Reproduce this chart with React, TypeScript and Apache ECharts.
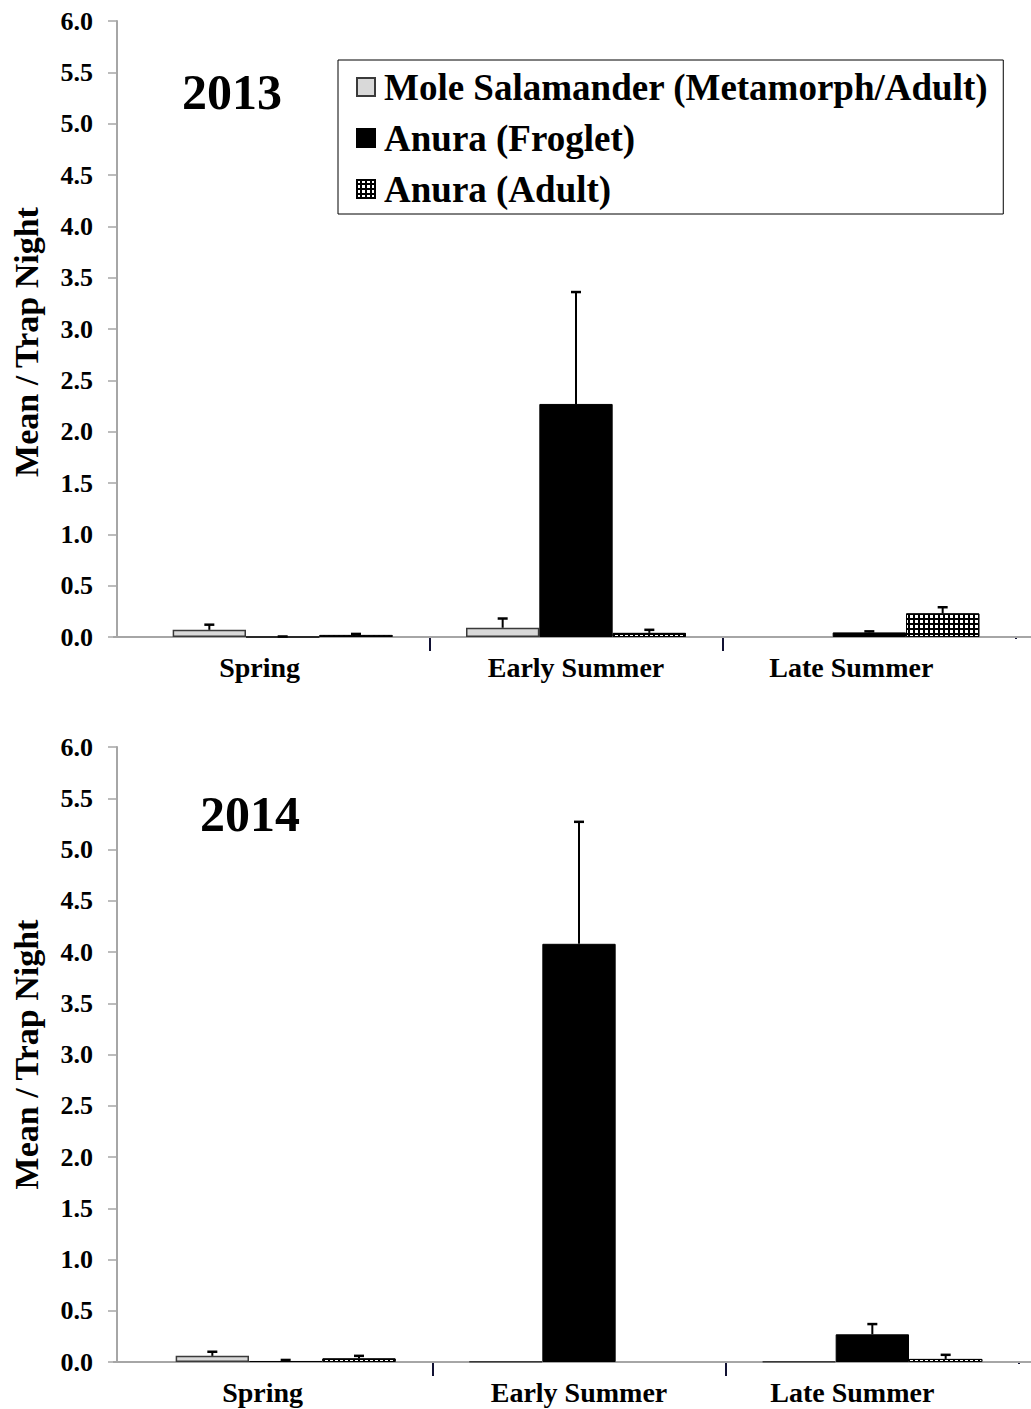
import React, { useEffect, useRef } from "react";
import * as echarts from "echarts";

const categories = ["Spring", "Early Summer", "Late Summer"];
const seriesNames = ["Mole Salamander (Metamorph/Adult)", "Anura (Froglet)", "Anura (Adult)"];
const yTicks = [0, 6, 0.5]; // min, max, interval

// 2013
const mole2013 = [0.07, 0.09, null];
const moleErr2013 = [0.05, 0.09, 0];
const froglet2013 = [0.0, 2.27, 0.045];
const frogletErr2013 = [0.005, 1.09, 0.01];
const adult2013 = [0.02, 0.04, 0.23];
const adultErr2013 = [0.01, 0.03, 0.06];

// 2014
const mole2014 = [0.06, 0.005, 0.005];
const moleErr2014 = [0.04, 0, 0];
const froglet2014 = [0.01, 4.08, 0.27];
const frogletErr2014 = [0.01, 1.19, 0.1];
const adult2014 = [0.035, null, 0.03];
const adultErr2014 = [0.025, 0, 0.04];

const years = ["2013", "2014"];

const FONT = "'Times New Roman', 'Liberation Serif', serif";

const styles = [
  { color: "#d9d9d9", borderColor: "#3a3a3a", borderWidth: 1.5 },
  { color: "#000000", borderColor: "#000000", borderWidth: 1 },
  {
    color: "#000000",
    borderColor: "#000000",
    borderWidth: 1,
    decal: {
      symbol: "rect",
      symbolSize: 1,
      color: "#ffffff",
      dashArrayX: [3, 1.6],
      dashArrayY: [3, 1.6],
      rotation: 0,
    },
  },
];

// per-chart label shifts (label padding right, in px) to match the original's off-centre labels
const labelPads = [
  [46, 0, 36],
  [46, 0, 40],
];

export default function App() {
  const ref = useRef<HTMLDivElement>(null);
  useEffect(() => {
    document.body.style.margin = "0";
    const chart = echarts.init(ref.current!, null, { renderer: "svg" });

    const grids = [
      { left: 136, width: 880, top: 21, height: 616 },
      { left: 139, width: 880, top: 747, height: 615 },
    ];
    const yOffsets = [19, 22];
    const namePads = [
      [0, 26, 0, 0],
      [0, 0, 0, 0],
    ];
    const data = [
      [mole2013, froglet2013, adult2013],
      [mole2014, froglet2014, adult2014],
    ];
    const errs = [
      [moleErr2013, frogletErr2013, adultErr2013],
      [moleErr2014, frogletErr2014, adultErr2014],
    ];

    const series: any[] = [];
    for (let g = 0; g < 2; g++) {
      for (let k = 0; k < 3; k++) {
        series.push({
          type: "bar",
          name: seriesNames[k],
          xAxisIndex: g,
          yAxisIndex: g,
          data: data[g][k],
          barGap: "0%",
          barCategoryGap: "25%",
          itemStyle: styles[k],
          z: 2,
        });
      }
      for (let k = 0; k < 3; k++) {
        const vals = data[g][k];
        const ee = errs[g][k];
        const ed: any[] = [];
        vals.forEach((v, i) => {
          if (v !== null && ee[i] > 0) ed.push([i, v, ee[i]]);
        });
        series.push({
          type: "custom",
          name: "err" + g + k,
          xAxisIndex: g,
          yAxisIndex: g,
          z: 5,
          data: ed,
          renderItem: (params: any, api: any) => {
            const ci = api.value(0);
            const v = api.value(1);
            const e = api.value(2);
            const base = api.coord([ci, v]);
            const top = api.coord([ci, v + e]);
            const catW = api.size([1, 0])[0];
            const bw = (catW * 0.75) / 3;
            const cx = base[0] + (k - 1) * bw;
            return {
              type: "group",
              children: [
                {
                  type: "line",
                  shape: { x1: cx, y1: base[1], x2: cx, y2: top[1] },
                  style: { stroke: "#000", lineWidth: 2 },
                },
                {
                  type: "line",
                  shape: { x1: cx - 5, y1: top[1], x2: cx + 5, y2: top[1] },
                  style: { stroke: "#000", lineWidth: 2.5 },
                },
              ],
            };
          },
        });
      }
    }

    const axisLineY = [637, 1362];

    chart.setOption({
      animation: false,
      backgroundColor: "#ffffff",
      textStyle: { fontFamily: FONT },
      grid: grids,
      legend: {
        orient: "vertical",
        left: 338,
        top: 60,
        data: seriesNames,
        icon: "rect",
        backgroundColor: "#fff",
        borderColor: "#000",
        borderWidth: 1,
        padding: [7, 15, 5, 18],
        itemWidth: 18,
        itemHeight: 18,
        itemGap: 11,
        selectedMode: false,
        textStyle: {
          fontFamily: FONT,
          fontWeight: "bold",
          fontSize: 37,
          lineHeight: 40,
          color: "#000",
          padding: [0, 0, 0, 4],
        },
      },
      xAxis: grids.map((_, g) => ({
        type: "category",
        gridIndex: g,
        data: categories.map((c, i) => ({
          value: c,
          textStyle: { padding: [0, labelPads[g][i], 0, 0] },
        })),
        axisLine: { show: true, lineStyle: { color: "#a6a6a6", width: 2 } },
        axisTick: {
          show: true,
          interval: (i: number) => i === 1 || i === 2,
          length: 14,
          lineStyle: { color: "#111133", width: 2 },
        },
        axisLabel: {
          fontFamily: FONT,
          fontWeight: "bold",
          fontSize: 28,
          color: "#000",
          margin: 16,
        },
      })),
      yAxis: grids.map((_, g) => ({
        type: "value",
        gridIndex: g,
        min: yTicks[0],
        max: yTicks[1],
        interval: yTicks[2],
        offset: yOffsets[g],
        name: "Mean / Trap Night",
        nameLocation: "middle",
        nameRotate: 90,
        nameGap: 74,
        nameTextStyle: {
          fontFamily: FONT,
          fontWeight: "bold",
          fontSize: 34,
          color: "#000",
          padding: namePads[g],
        },
        splitLine: { show: false },
        axisLine: { show: true, lineStyle: { color: "#a6a6a6", width: 2 } },
        axisTick: { show: true, length: 9, lineStyle: { color: "#a6a6a6", width: 1.5 } },
        axisLabel: {
          fontFamily: FONT,
          fontWeight: "bold",
          fontSize: 26,
          color: "#000",
          margin: 24,
          formatter: (v: number) => v.toFixed(1),
        },
      })),
      graphic: [
        ...axisLineY.map((y) => ({
          type: "line",
          shape: { x1: 113, y1: y, x2: 1031, y2: y },
          style: { stroke: "#a6a6a6", lineWidth: 2 },
          z: 1,
        })),
        ...axisLineY.map((y) => ({
          type: "rect",
          shape: { x: 1005, y: y + 2, width: 26, height: 16 },
          style: { fill: "#ffffff" },
          z: 100,
        })),
        {
          type: "text",
          left: 182,
          top: 67,
          style: { text: years[0], font: `bold 50px ${FONT}`, fill: "#000" },
        },
        {
          type: "text",
          left: 200,
          top: 789,
          style: { text: years[1], font: `bold 50px ${FONT}`, fill: "#000" },
        },
      ],
      series,
    });
    return () => chart.dispose();
  }, []);
  return <div ref={ref} style={{ width: 1031, height: 1409 }} />;
}
